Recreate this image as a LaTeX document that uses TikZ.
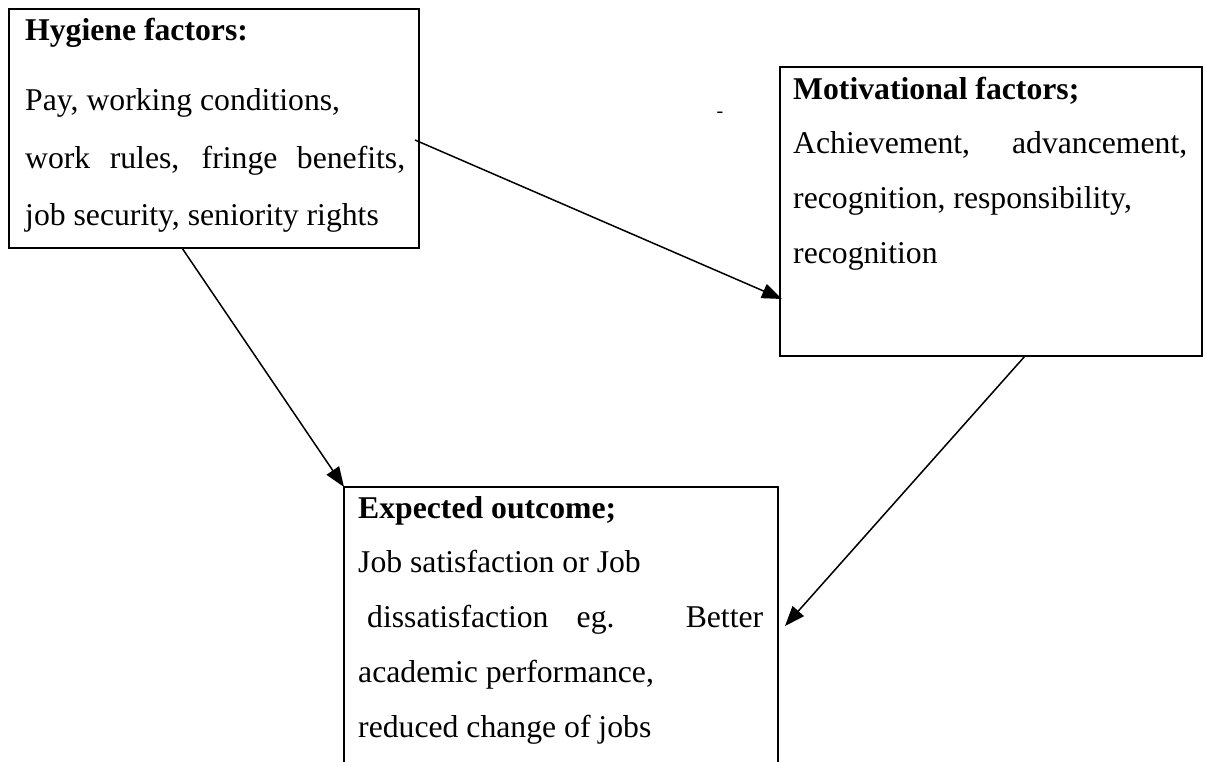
\documentclass[tikz,border=0pt]{standalone}
\usepackage{fontspec}
\setmainfont{Liberation Serif}
\usetikzlibrary{arrows.meta,calc}
\begin{document}
\begin{tikzpicture}[x=1pt,y=-1pt,
  box/.style={draw, line width=2.2pt, inner sep=0pt, outer sep=0pt, anchor=north west},
  frame/.style={inner sep=0pt, outer sep=0pt, anchor=north west},
  txt/.style={inner sep=0pt, anchor=base west, font=\fontsize{31.7}{38}\selectfont},
  head/.style={txt, font=\fontsize{31.7}{38}\selectfont\bfseries},
  link/.style={line width=1.5pt, -{Triangle[length=20pt,width=15pt]}}]
\useasboundingbox (0,0) rectangle (1206,761);

% Hygiene factors box
\node (hyg) [box, minimum width=410pt, minimum height=239pt] at (9,9) {};
\node (hygH) [head] at (25,40) {Hygiene factors:};
\node (hyg1) [txt] at (25,110) {Pay, working conditions,};
\node (hyg2) [txt] at (25,168) {\makebox[380pt][s]{work rules, fringe benefits,}};
\node (hyg3) [txt] at (25,225) {job security, seniority rights};

% Motivational factors box
\node (mot) [box, minimum width=422pt, minimum height=289pt] at (780,67) {};
\node (motH) [head] at (793,99) {Motivational factors;};
\node (mot1) [txt] at (793,153) {\makebox[394pt][s]{Achievement, advancement,}};
\node (mot2) [txt] at (793,208) {recognition, responsibility,};
\node (mot3) [txt] at (793,263) {recognition};

% Expected outcome box (open at the bottom)
\node (exp) [frame, minimum width=434pt, minimum height=280pt] at (344,487) {};
\draw[line width=2.2pt] (exp.south west) -- (exp.north west) -- (exp.north east) -- (exp.south east);
\node (expH) [head] at (358,518) {Expected outcome;};
\node (exp1) [txt] at (358,572) {Job satisfaction or Job};
\node (exp2) [txt] at (367,627) {\makebox[396pt][s]{dissatisfaction eg. Better}};
\node (exp3) [txt] at (358,682) {academic performance,};
\node (exp4) [txt] at (358,737) {reduced change of jobs};

% stray hyphen
\node (dash) [inner sep=0pt, anchor=base, font=\fontsize{20}{24}\selectfont] at (720,117) {-};

% connectors
\draw[link] ($(hyg.north east)+(-4,131)$) -- ($(mot.north west)+(2,232)$);
\draw[link] ($(hyg.south west)+(173,0)$) -- (exp.north west);
\draw[link] ($(mot.south west)+(245,0)$) -- ($(exp.north east)+(7,139)$);
\end{tikzpicture}
\end{document}
